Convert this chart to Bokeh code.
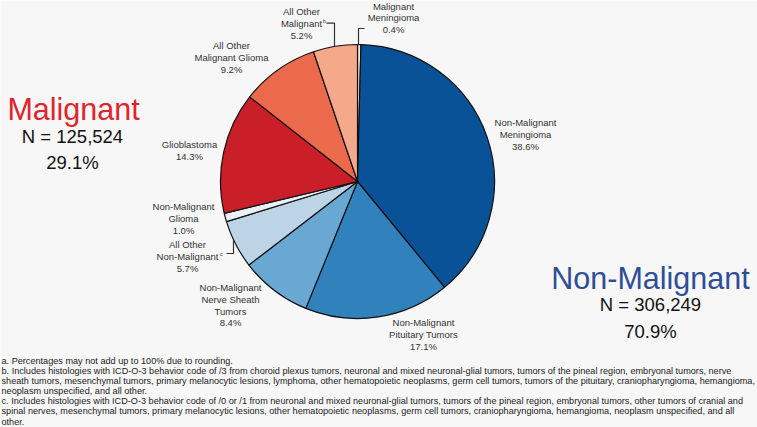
import math
from bokeh.plotting import figure
from bokeh.models import ColumnDataSource
from bokeh.core.properties import value
from bokeh.embed import file_html
from bokeh.resources import INLINE

# ---- data (clockwise from 12 o'clock) ----
categories = ["Malignant Meningioma", "Non-Malignant Meningioma", "Non-Malignant Pituitary Tumors",
              "Non-Malignant Nerve Sheath Tumors", "All Other Non-Malignant", "Non-Malignant Glioma",
              "Glioblastoma", "All Other Malignant Glioma", "All Other Malignant"]
percents = [0.4, 38.6, 17.1, 8.4, 5.7, 1.0, 14.3, 9.2, 5.2]
colors = ["#fde3d6", "#0a5298", "#3181bd", "#6aa8d4", "#bcd4e6", "#e9f0f8",
          "#ca1f28", "#ec6a4c", "#f5a98b"]
label_lines = [["Malignant", "Meningioma", "0.4%"],
               ["Non-Malignant", "Meningioma", "38.6%"],
               ["Non-Malignant", "Pituitary Tumors", "17.1%"],
               ["Non-Malignant", "Nerve Sheath", "Tumors", "8.4%"],
               ["All Other", "Non-Malignant", "5.7%"],
               ["Non-Malignant", "Glioma", "1.0%"],
               ["Glioblastoma", "14.3%"],
               ["All Other", "Malignant Glioma", "9.2%"],
               ["All Other", "Malignant", "5.2%"]]
group_names = ["Malignant", "Non-Malignant"]
group_n = ["N = 125,524", "N = 306,249"]
group_pct = ["29.1%", "70.9%"]
footnotes = [
    "a. Percentages may not add up to 100% due to rounding.",
    "b. Includes histologies with ICD-O-3 behavior code of /3 from choroid plexus tumors, neuronal and mixed neuronal-glial tumors, tumors of the pineal region, embryonal tumors, nerve",
    "sheath tumors, mesenchymal tumors, primary melanocytic lesions, lymphoma, other hematopoietic neoplasms, germ cell tumors, tumors of the pituitary, craniopharyngioma, hemangioma,",
    "neoplasm unspecified, and all other.",
    "c. Includes histologies with ICD-O-3 behavior code of /0 or /1 from neuronal and mixed neuronal-glial tumors, tumors of the pineal region, embryonal tumors, other tumors of cranial and",
    "spinal nerves, mesenchymal tumors, primary melanocytic lesions, other hematopoietic neoplasms, germ cell tumors, craniopharyngioma, hemangioma, neoplasm unspecified, and all",
    "other.",
]

# ---- layout (image pixel coords) ----
W, H = 757, 427
def X(x): return x
def Y(y): return H - y

CX, CY, R = 357, 181, 137
# label centre x and first-line centre y (image coords)
label_pos = [(393, 5.5), (525, 122), (423, 322), (230, 287), (187, 244), (183, 206),
             (189, 144), (231, 45), (301, 11)]
LSTEP = 11.8
FONT = value("Liberation Sans")

p = figure(width=W, height=H, x_range=(0, W), y_range=(0, H), min_border=0,
           toolbar_location=None, output_backend="svg",
           background_fill_color="#f7f7f7", border_fill_color="#f7f7f7")
p.axis.visible = False
p.grid.visible = False
p.outline_line_color = None

total = sum(percents)
starts, ends = [], []
cum = 0.0
for v in percents:
    starts.append(math.pi / 2 - 2 * math.pi * cum / total)
    cum += v
    ends.append(math.pi / 2 - 2 * math.pi * cum / total)

src = ColumnDataSource(dict(start=starts, end=ends, color=colors, name=categories))
p.wedge(x=X(CX), y=Y(CY), radius=R, start_angle="start", end_angle="end", direction="clock",
        fill_color="color", line_color="#111111", line_width=1.2, source=src)

# slice labels
tx, ty, tt = [], [], []
for lines, (lx, ly) in zip(label_lines, label_pos):
    for i, s in enumerate(lines):
        tx.append(X(lx)); ty.append(Y(ly + i * LSTEP)); tt.append(s)
p.text(x=tx, y=ty, text=tt, text_font=FONT, text_font_size="9.5px", text_color="#333333",
       text_align="center", text_baseline="middle")

# superscripts
p.text(x=[X(322.5), X(219.5)], y=[Y(20), Y(253.5)], text=["b", "c"], text_font=FONT,
       text_font_size="5px", text_color="#333333", text_align="left", text_baseline="middle")

# leader lines
def edge_y(x, top=True):
    d = math.sqrt(R * R - (x - CX) ** 2)
    return CY - d if top else CY + d
p.line(x=[X(326), X(334), X(334)], y=[Y(22.7), Y(22.7), Y(edge_y(334))], line_color="#333333", line_width=1.2)
p.line(x=[X(364), X(358), X(358)], y=[Y(28), Y(28), Y(edge_y(358))], line_color="#333333", line_width=1.2)
p.line(x=[X(226), X(233), X(233)], y=[Y(253), Y(253), Y(edge_y(233, top=False))], line_color="#333333", line_width=1.2)

# group labels
p.text(x=[X(73), X(650)], y=[Y(108), Y(277)], text=group_names, text_font=FONT, text_font_size="30.5px",
       text_color=["#e0242b", "#2f4e97"], text_align="center", text_baseline="middle")
p.text(x=[X(72), X(650)], y=[Y(136), Y(304)], text=group_n, text_font=FONT, text_font_size="18.5px",
       text_color="#111111", text_align="center", text_baseline="middle")
p.text(x=[X(72), X(650)], y=[Y(161.5), Y(331)], text=group_pct, text_font=FONT, text_font_size="18.5px",
       text_color="#111111", text_align="center", text_baseline="middle")

# footnotes
fy = [Y(360 + i * 10.17) for i in range(len(footnotes))]
p.text(x=[1] * len(footnotes), y=fy, text=footnotes, text_font=FONT, text_font_size="9.15px",
       text_color="#222222", text_align="left", text_baseline="middle")

open("out.html", "w").write(file_html(p, INLINE))
